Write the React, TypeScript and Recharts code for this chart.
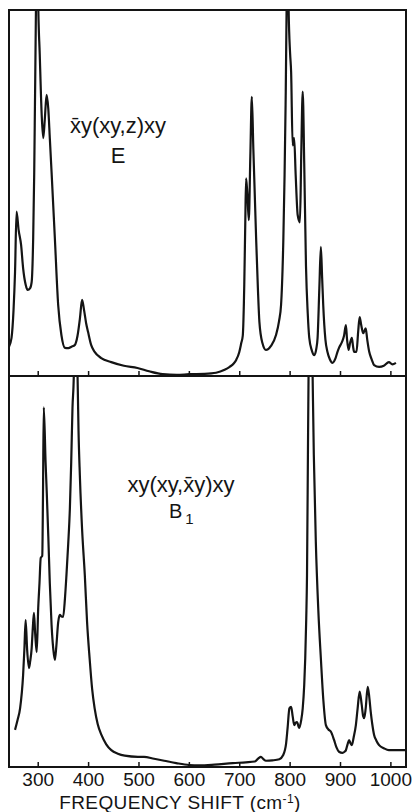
import React from 'react';
import { LineChart, Line, XAxis, YAxis, ReferenceArea } from 'recharts';

// Raman spectrum, E symmetry: x̄y(xy,z)xy
const eFreq = [
  242, 247, 251, 254, 257, 261, 266, 270, 275, 279, 284, 287, 290, 292, 293.5, 295.5, 298, 300,
  303, 307, 310, 313, 316.6, 320, 323, 326.5, 333, 339.6, 346, 353, 360, 366, 372.7, 378, 383,
  387, 391, 395, 399, 405, 412, 425, 445, 470, 497, 520, 547, 575, 600, 630, 653, 670, 680, 688,
  693, 699, 703, 706, 709, 711, 712.6, 715, 718, 721, 724, 727, 732.5, 736, 739, 745, 752, 762,
  772, 778, 782, 786.6, 789, 791, 793, 795, 797, 800, 802, 805, 808, 811, 815, 819.5, 822, 825,
  828, 831.5, 835, 838, 843, 848, 852, 854.5, 858, 861, 863.5, 865.7, 870, 874, 879, 884, 890,
  894, 897, 903, 907, 910.7, 913, 916, 919, 922.5, 925, 927, 931.7, 935, 938, 941, 945, 950,
  953, 957, 962, 966.7, 976.6, 986, 996, 1003, 1010,
];
const eIntensity = [
  8, 10.4, 18, 28.5, 44.9, 40, 35.8, 29.5, 25, 23.5, 24, 25.7, 37.7, 55, 74, 100.5, 150, 102,
  88, 71, 65, 70, 76.8, 73, 65, 55.7, 37.7, 19.4, 11.2, 7.7, 7.6, 8, 8.5, 11, 16,
  20.8, 18, 14.5, 12, 8.5, 6.6, 4.9, 3.8, 2.8, 2.2, 1.3, 0.5, 0.3, 0.5, 0.6, 0.9, 1.7, 2.5, 3.4,
  4.4, 6.5, 9, 11, 25, 42, 54, 50, 42.6, 60, 76.3, 62, 37.7, 24, 14.8, 9, 7.1, 8.2,
  11.2, 15, 19.4, 37.7, 55, 74, 100.5, 150, 100.5, 88, 83, 63, 65, 55, 44, 42, 60, 77.7,
  58, 30, 17, 10.4, 7, 5.7, 7.5, 10.4, 24, 35.3, 27, 19.4, 10, 6.6, 4.5, 3.6, 4.8,
  6.6, 7.7, 9.3, 11, 13.9, 10, 7.1, 9, 10.4, 8, 6.6, 6.6, 12, 16.1, 14, 11.7, 13,
  10, 6.6, 4.5, 3, 2.5, 2.8, 3.8, 3.2, 3.6,
];

// Raman spectrum, B1 symmetry: xy(xy,x̄y)xy
const b1Freq = [
  254, 259, 264, 270, 272.5, 275, 278, 281.6, 284, 287, 289, 291.5, 294, 297, 300, 302.5, 305,
  308, 309.5, 311, 314.6, 317, 320, 323, 326.5, 330, 333, 336, 339.6, 343, 346, 349.5, 353, 356,
  359.5, 362.8, 365.5, 368, 370.7, 374, 378, 380, 382.6, 387, 392.5, 397, 402, 407, 412, 418,
  425.5, 435, 445, 458, 471.7, 498, 510, 530, 550, 574, 600, 620, 650, 686, 712, 730, 737, 742,
  747, 752, 765, 778.6, 786, 792, 795, 798.6, 802, 805, 808.3, 811, 813.6, 818, 822, 825, 828,
  830, 832, 833.5, 835.5, 836.6, 840, 844.6, 847, 851, 856, 861, 866, 871, 876, 881, 887, 892,
  897, 904, 908, 910.7, 914, 917, 920, 922.5, 926, 930.5, 934, 938, 942, 945, 947, 950, 954, 957,
  960, 963, 966.7, 971, 976.6, 986, 996, 1010, 1029,
];
const b1Intensity = [
  9.5, 12, 15, 23.5, 30, 37.6, 30, 25.3, 27, 30.4, 35, 39.4, 34, 29.4, 40.7, 47, 53.5,
  54, 70, 92, 78, 70, 59, 47, 36.3, 30, 27.4, 31, 37, 38.9, 38.5, 38.4, 43, 49,
  57, 66, 78, 91.8, 100.5, 140, 100.5, 86, 74.7, 61, 49, 37, 27.8, 20, 15, 11,
  8.2, 5.8, 4.3, 3.4, 2.9, 2.6, 2.6, 2.1, 1.6, 1, 0.5, 0.4, 0.6, 1, 1.2, 1.4, 2.2, 2.6,
  2, 1.6, 1.7, 2, 3, 6, 10, 15, 15.4, 13, 10.7, 11.3, 11.5, 10, 12, 15, 21,
  27.8, 38, 49, 83, 100.5, 140, 100.5, 80, 57.6, 40, 27.8, 17, 10.7, 9.6, 9, 7, 5,
  3.9, 3.6, 3.9, 4.3, 5.8, 6.9, 6, 5.6, 7.5, 10.7, 15, 19.3, 16, 13, 12.5, 15, 20.5, 18,
  14.1, 11, 8.2, 6.8, 5.6, 4.8, 4.3, 4.3, 4.3,
];

const freqTicks = [300, 400, 500, 600, 700, 800, 900, 1000];
const freqDomain: [number, number] = [242, 1030];
const intensityDomain: [number, number] = [0, 100];

const toRows = (freq: number[], val: number[]) => freq.map((f, i) => ({ f, v: val[i] }));
const eRows = toRows(eFreq, eIntensity);
const b1Rows = toRows(b1Freq, b1Intensity);

const INK = '#141414';
const FONT = '"Liberation Sans", Arial, sans-serif';
const AXIS_H = 1;

// Tick marks point up into the frame; labels only on the lower panel.
const makeTick = (withLabel: boolean) => (props: any) => {
  const { x, payload } = props;
  const y = props.y - AXIS_H;
  return (
    <g>
      <line x1={x} x2={x} y1={y} y2={y - 4} stroke={INK} strokeWidth={1.5} />
      {withLabel && (
        <text x={x} y={y + 20} textAnchor="middle" fontFamily={FONT} fontSize={19} fill={INK}>
          {payload.value}
        </text>
      )}
    </g>
  );
};

const Panel = ({ rows, height, margin, withLabels }: any) => (
  <LineChart width={419} height={height} data={rows} margin={margin}>
    <XAxis
      dataKey="f"
      type="number"
      domain={freqDomain}
      ticks={freqTicks}
      allowDataOverflow
      height={AXIS_H}
      axisLine={false}
      tickLine={false}
      tickSize={0}
      tickMargin={0}
      interval={0}
      tick={makeTick(withLabels)}
    />
    <YAxis type="number" domain={intensityDomain} allowDataOverflow hide />
    <ReferenceArea
      x1={freqDomain[0]}
      x2={freqDomain[1]}
      y1={intensityDomain[0]}
      y2={intensityDomain[1]}
      fill="none"
      fillOpacity={0}
      stroke={INK}
      strokeWidth={2}
    />
    <Line
      dataKey="v"
      type="monotone"
      stroke={INK}
      strokeWidth={2.2}
      dot={false}
      activeDot={false}
      isAnimationActive={false}
    />
  </LineChart>
);

export default function App() {
  return (
    <div style={{ position: 'absolute', left: 0, top: 0, width: 419, height: 812, background: '#fff' }}>
      <div style={{ position: 'absolute', left: 0, top: 0 }}>
        <Panel rows={eRows} height={377} margin={{ top: 10, right: 13, bottom: 0, left: 9 }} withLabels={false} />
      </div>
      <div style={{ position: 'absolute', left: 0, top: 376 }}>
        <Panel rows={b1Rows} height={436} margin={{ top: 0, right: 13, bottom: 44, left: 9 }} withLabels />
      </div>
      <svg
        width={419}
        height={812}
        style={{ position: 'absolute', left: 0, top: 0, pointerEvents: 'none' }}
      >
        <g fontFamily={FONT} fill={INK}>
          <text x={118} y={133} textAnchor="middle" fontSize={22}>{'x\u0304y(xy,z)xy'}</text>
          <text x={118} y={163} textAnchor="middle" fontSize={22}>E</text>
          <text x={181} y={491.5} textAnchor="middle" fontSize={22}>{'xy(xy,x\u0304y)xy'}</text>
          <text x={169} y={518} fontSize={20}>
            B<tspan dx={3} dy={6} fontSize={15}>1</tspan>
          </text>
          <text x={180} y={809} textAnchor="middle" fontSize={19} letterSpacing={0.4}>
            FREQUENCY SHIFT (cm<tspan dy={-6} fontSize={12}>-1</tspan><tspan dy={6}>)</tspan>
          </text>
        </g>
      </svg>
    </div>
  );
}
